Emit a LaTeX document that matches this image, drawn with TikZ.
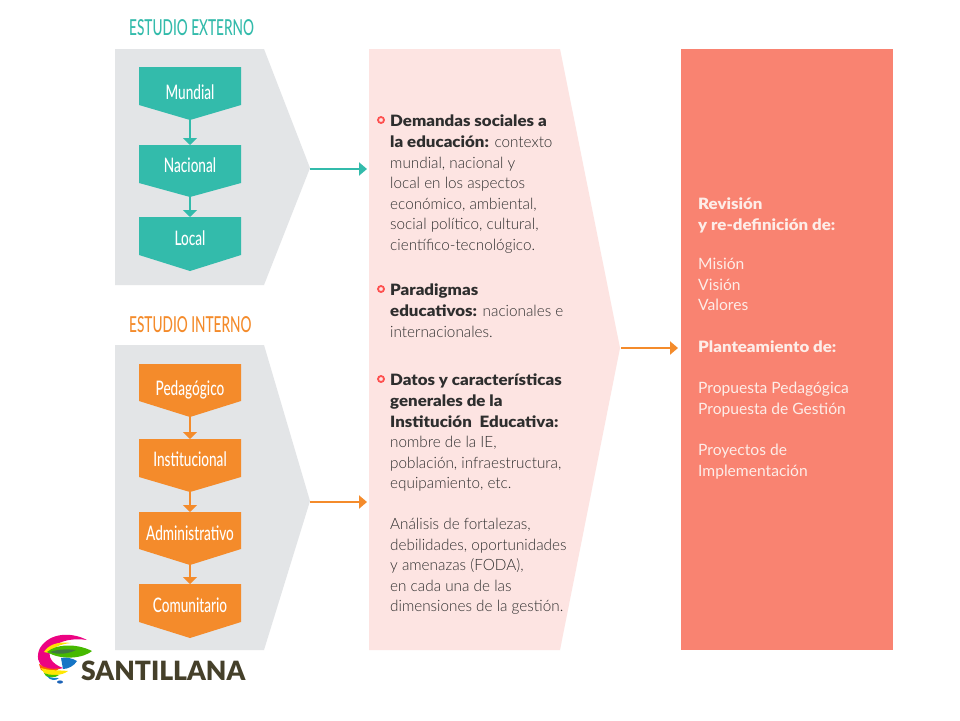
\documentclass[tikz,border=0pt]{standalone}
\usepackage{fontspec}
\setmainfont{Lato}
\newfontfamily\bodyfont[FakeStretch=0.98]{Lato Light}
\newfontfamily\sidefont[FakeStretch=1.0]{Lato}
\newfontfamily\boldfont[FakeStretch=1.08]{Lato Black}
\newfontfamily\titlefont[FakeStretch=0.62]{Lato Medium}
\newfontfamily\condfont[FakeStretch=0.68]{Lato Medium}
\newfontfamily\logofont{Lato Black}
\usetikzlibrary{arrows.meta}
\definecolor{teal1}{HTML}{33BBAB}
\definecolor{orange1}{HTML}{F48B2B}
\definecolor{grey1}{HTML}{E3E5E7}
\definecolor{pink1}{HTML}{FDE4E2}
\definecolor{salmon1}{HTML}{F98371}
\definecolor{bodytxt}{HTML}{2E2E2E}
\definecolor{sidetxt}{HTML}{FDEDE8}
\definecolor{logotxt}{HTML}{45402A}
\tikzset{
  x=1pt,y=-1pt,
  titlelabel/.style={font=\titlefont\fontsize{22}{24}\selectfont,anchor=west,inner sep=0pt},
  boxlabel/.style={font=\condfont\fontsize{20}{22}\selectfont,text=white,inner sep=0pt},
  smallarrow/.style={line width=2.5pt,-{Triangle[width=14pt,length=7pt]}},
  bigarrow/.style={line width=2.5pt,-{Triangle[width=13pt,length=8pt]}},
  bodyline/.style={font=\bodyfont\fontsize{15.6}{20.6}\selectfont,text=bodytxt,anchor=north west,inner sep=0pt,align=left},
  sidetext/.style={font=\sidefont\fontsize{15.6}{20.7}\selectfont,text=sidetxt,anchor=north west,inner sep=0pt,align=left},
  bulletring/.style={circle,draw=#1,line width=1.8pt,fill=pink1,minimum size=6pt,inner sep=0pt},
}
\newcommand{\flowbox}[7]{% name, top, bottom, tip, colour, label, label y
  \fill[#5] (139,#2) -- (241,#2) -- (241,#3) -- (190,#4) -- (139,#3) -- cycle;
  \coordinate (#1-top) at (190,#2);
  \coordinate (#1-tip) at (190,#4);
  \node[boxlabel] (#1) at (190,#7) {#6};
}
\begin{document}
\begin{tikzpicture}
\useasboundingbox (0,0) rectangle (960,720);
\fill[white] (0,0) rectangle (960,720);
% panels
\fill[grey1] (115,49) -- (264,49) -- (310,168) -- (264,285) -- (115,285) -- cycle;
\fill[grey1] (115,345) -- (264,345) -- (310,501) -- (264,650) -- (115,650) -- cycle;
\fill[pink1] (369,49) -- (560,49) -- (620,348) -- (560,650) -- (369,650) -- cycle;
\fill[salmon1] (681,49) rectangle (893,650);
\coordinate (ext-out) at (310,169);
\coordinate (int-out) at (310,502);
\coordinate (mid-out) at (621,348);
\coordinate (mid-in1) at (367,169);
\coordinate (mid-in2) at (367,502);
\coordinate (right-in) at (678,348);
% titles
\node[titlelabel,text=teal1] (t1) at (129,28) {ESTUDIO EXTERNO};
\node[titlelabel,text=orange1] (t2) at (129,325) {ESTUDIO INTERNO};
% boxes
\flowbox{mun}{67}{105}{120}{teal1}{Mundial}{92}
\flowbox{nac}{145}{183}{197}{teal1}{Nacional}{165}
\flowbox{loc}{217}{255}{271}{teal1}{Local}{238}
\flowbox{ped}{364}{401}{417}{orange1}{Pedagógico}{390}
\flowbox{ins}{439}{477}{492}{orange1}{Institucional}{459}
\flowbox{adm}{512}{549}{565}{orange1}{Administrativo}{533}
\flowbox{com}{584}{622}{638}{orange1}{Comunitario}{605}
% connectors
\draw[smallarrow,teal1] (mun-tip) -- (nac-top);
\draw[smallarrow,teal1] (nac-tip) -- (loc-top);
\draw[smallarrow,orange1] (ped-tip) -- (ins-top);
\draw[smallarrow,orange1] (ins-tip) -- (adm-top);
\draw[smallarrow,orange1] (adm-tip) -- (com-top);
\draw[bigarrow,teal1] (ext-out) -- (mid-in1);
\draw[bigarrow,orange1] (int-out) -- (mid-in2);
\draw[bigarrow,orange1] (mid-out) -- (right-in);
% middle text
\node[bulletring=red!65!pink1] (b1) at (381,120) {};
\node[bulletring=red!65!pink1] (b2) at (381,289) {};
\node[bulletring=red!65!pink1] (b3) at (381,379) {};
\node[bodyline] (m1) at (390,115) {{\boldfont Demandas sociales a}\\{\boldfont la educación:} contexto\\mundial, nacional y\\local en los aspectos\\económico, ambiental,\\social político, cultural,\\científico-tecnológico.};
\node[bodyline] (m2) at (390,284) {{\boldfont Paradigmas}\\{\boldfont educativos:} nacionales e\\internacionales.};
\node[bodyline] (m3) at (390,374) {{\boldfont Datos y características}\\{\boldfont generales de la}\\{\boldfont Institución\ \ Educativa:}\\nombre de la IE,\\población, infraestructura,\\equipamiento, etc.};
\node[bodyline] (m4) at (390,518) {Análisis de fortalezas,\\debilidades, oportunidades\\y amenazas (FODA),\\en cada una de las\\dimensiones de la gestión.};
% right text
\node[sidetext] (r1) at (698,198) {{\boldfont Revisión}\\{\boldfont y re-definición de:}};
\node[sidetext] (r2) at (698,258) {Misión\\Visión\\Valores};
\node[sidetext] (r3) at (698,341) {{\boldfont Planteamiento de:}};
\node[sidetext] (r4) at (698,382) {Propuesta Pedagógica\\Propuesta de Gestión};
\node[sidetext] (r5) at (698,444) {Proyectos de\\Implementación};
% logo
\fill[magenta!90!red] (87,640) .. controls (72,632) and (50,632) .. (40,648) .. controls (36,656) and (38,664) .. (44,668) .. controls (50,670) and (58,670) .. (63,668) .. controls (52,664) and (46,656) .. (52,648) .. controls (60,640) and (74,638) .. (87,640) -- cycle;
\fill[yellow!85!orange] (44,652) .. controls (48,645) and (58,641) .. (71,643) .. controls (60,644) and (52,648) .. (49,653) -- cycle;
\fill[green!45!olive] (47,652) .. controls (56,644) and (76,643) .. (92,651) .. controls (84,658) and (62,661) .. (47,652) -- cycle;
\fill[green!30!black!75] (50,652) .. controls (58,649) and (68,649) .. (76,650) .. controls (68,654) and (58,655) .. (50,652) -- cycle;
\fill[cyan!55!blue] (61,658) .. controls (66,657) and (72,658) .. (77,661) .. controls (74,666) and (68,669) .. (63,669) -- cycle;
\fill[orange!75!red] (39,664) .. controls (44,668) and (52,670) .. (60,668) .. controls (56,673) and (46,673) .. (41,670) -- cycle;
\fill[yellow!90!orange] (41,668) .. controls (50,671) and (60,670) .. (68,671) .. controls (62,676) and (50,676) .. (44,673) -- cycle;
\fill[green!50!olive] (44,673) .. controls (48,675) and (54,675) .. (59,675) .. controls (55,678) and (49,678) .. (46,676) -- cycle;
\fill[cyan!65!blue] (47,676) .. controls (50,678) and (54,678) .. (59,678) .. controls (56,681) and (50,681) .. (47,676) -- cycle;
\fill[cyan!40!blue] (60,682) circle[x radius=3,y radius=1.6];
\node[font=\logofont\fontsize{26.5}{28}\selectfont,text=logotxt,anchor=west,inner sep=0pt] (logo) at (81,671) {SANTILLANA};
\end{tikzpicture}
\end{document}
